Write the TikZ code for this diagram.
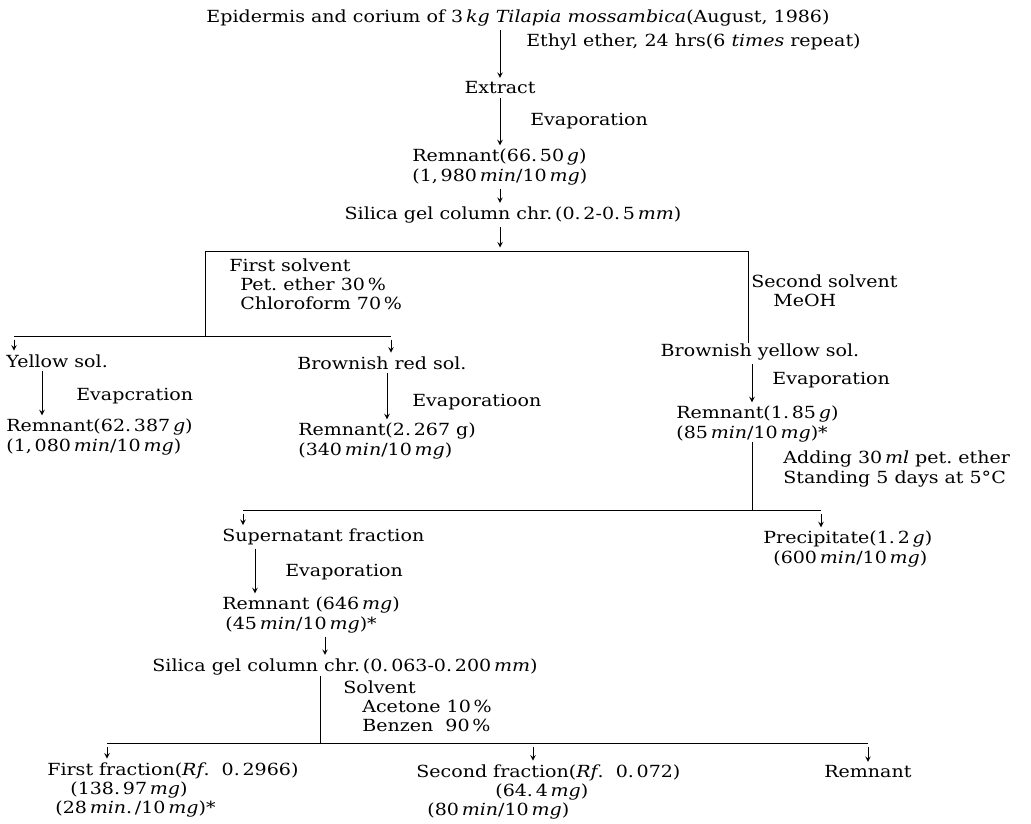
\documentclass[tikz,border=0pt]{standalone}
\usepackage{fontspec}
\setmainfont{DejaVu Serif}[FakeStretch=1.14]
\usepackage{tikz}

\begin{document}
\begin{tikzpicture}[x=0.02cm, y=-0.02cm,
  every node/.style={inner sep=0pt, font=\fontsize{9.5}{11}\selectfont},
  txt/.style={align=left, anchor=west},
  flow/.style={arrows=-stealth, thin, shorten <=2pt, shorten >=2pt}]
\useasboundingbox (0,0) rectangle (1031,823);
% main steps
\node (1) at (518,18) {Epidermis and corium of 3\,\textit{kg} \textit{Tilapia mossambica}(August, 1986)};
\node (2) at (500,88) {Extract};
\node (3)[txt] at (412,167) {Remnant(66.\,50\,\textit{g})\\(1,\,980\,\textit{min}/10\,\textit{mg})};
\node (4) at (513,215) {Silica gel column chr.\,(0.\,2-0.\,5\,\textit{mm})};
\node (5)[txt] at (6,361) {Yellow sol.};
\node (6)[txt] at (6,437) {Remnant(62.\,387\,\textit{g})\\(1,\,080\,\textit{min}/10\,\textit{mg})};
\node (7)[txt] at (297,363) {Brownish red sol.};
\node (8)[txt] at (298,441) {Remnant(2.\,267 g)\\(340\,\textit{min}/10\,\textit{mg})};
\node (9) at (760,352) {Brownish yellow sol.};
\node (10)[txt] at (676,424) {Remnant(1.\,85\,\textit{g})\\(85\,\textit{min}/10\,\textit{mg})*};
\node (11)[txt] at (222,537) {Supernatant fraction};
\node (12)[txt] at (763,549) {Precipitate(1.\,2\,\textit{g})\\\hspace*{0.2cm}(600\,\textit{min}/10\,\textit{mg})};
\node (13)[txt] at (222,615) {Remnant (646\,\textit{mg})\\\hspace*{0.06cm}(45\,\textit{min}/10\,\textit{mg})*};
\node (14) at (345,667) {Silica gel column chr.\,(0.\,063-0.\,200\,\textit{mm})};
\node (15)[txt] at (47,790) {First fraction(\textit{Rf}.\ \ 0.\,2966)\\\hspace*{0.46cm}(138.\,97\,\textit{mg})\\\hspace*{0.16cm}(28\,\textit{min}.\,/10\,\textit{mg})*};
\node (16)[txt] at (416,792) {Second fraction(\textit{Rf}.\ \ 0.\,072)\\\hspace*{1.58cm}(64.\,4\,\textit{mg})\\\hspace*{0.22cm}(80\,\textit{min}/10\,\textit{mg})};
\node (17)[txt] at (824,772) {Remnant};
% conditions
\node (18)[txt] at (526,42) {Ethyl ether, 24 hrs(6 \textit{times} repeat)};
\node (19)[txt] at (530,121) {Evaporation};
\node (20)[align=left, anchor=north west] at (229,258) {First solvent\\\hspace*{0.22cm}Pet.\ ether 30\,\%\\\hspace*{0.22cm}Chloroform 70\,\%};
\node (21)[txt] at (751,291) {Second solvent\\\hspace*{0.44cm}MeOH};
\node (22)[txt] at (76,396) {Evapcration};
\node (23)[txt] at (412,402) {Evaporatioon};
\node (24)[txt] at (772,380) {Evaporation};
\node (25)[txt] at (783,469) {Adding 30\,\textit{ml} pet.\ ether\\Standing 5 days at 5°C};
\node (26)[txt] at (285,572) {Evaporation};
\node (27)[align=left, anchor=north west] at (343,680) {Solvent\\\hspace*{0.38cm}Acetone 10\,\%\\\hspace*{0.38cm}Benzen\ \ 90\,\%};
% branch points
\coordinate (c1) at (205,251);
\coordinate (c2) at (748,251);
\coordinate (c3) at (14,336);
\coordinate (c4) at (391,336);
\coordinate (c5) at (205,336);
\coordinate (c6) at (243,510);
\coordinate (c7) at (821,510);
\coordinate (c8) at (752,510);
\coordinate (c9) at (107,743);
\coordinate (c10) at (533,743);
\coordinate (c11) at (868,743);
\coordinate (c12) at (320,743);
\coordinate (a1) at (42,0);
\coordinate (a2) at (387,0);
\coordinate (a3) at (255,0);
\coordinate (a4) at (325,0);
% connectors
\draw[flow] (1.south -| 2) -- (2);
\draw[flow] (2) -- (2 |- 3.north);
\draw[flow] (3.south -| 2) -- (2 |- 4.north);
\draw[flow] (4.south -| 2) -- (2 |- c1);
\draw (c1) -- (c2);
\draw (c1) -- (c5);
\draw (c3) -- (c4);
\draw[flow] (c3) -- (c3 |- 5.north);
\draw[flow] (c4) -- (c4 |- 7.north);
\draw[flow] (5.south -| a1) -- (a1 |- 6.north);
\draw[flow] (7.south -| a2) -- (a2 |- 8.north);
\draw (c2) -- (c2 |- 9.north);
\draw[flow] (9.south -| c8) -- (c8 |- 10.north);
\draw (10.south -| c8) -- (c8);
\draw (c6) -- (c7);
\draw[flow] (c6) -- (c6 |- 11.north);
\draw[flow] (c7) -- (c7 |- 12.north);
\draw[flow] (11.south -| a3) -- (a3 |- 13.north);
\draw[flow] (13.south -| a4) -- (a4 |- 14.north);
\draw (14.south -| c12) -- (c12);
\draw (c9) -- (c11);
\draw[flow] (c9) -- (c9 |- 15.north);
\draw[flow] (c10) -- (c10 |- 16.north);
\draw[flow] (c11) -- (c11 |- 17.north);
\end{tikzpicture}
\end{document}
